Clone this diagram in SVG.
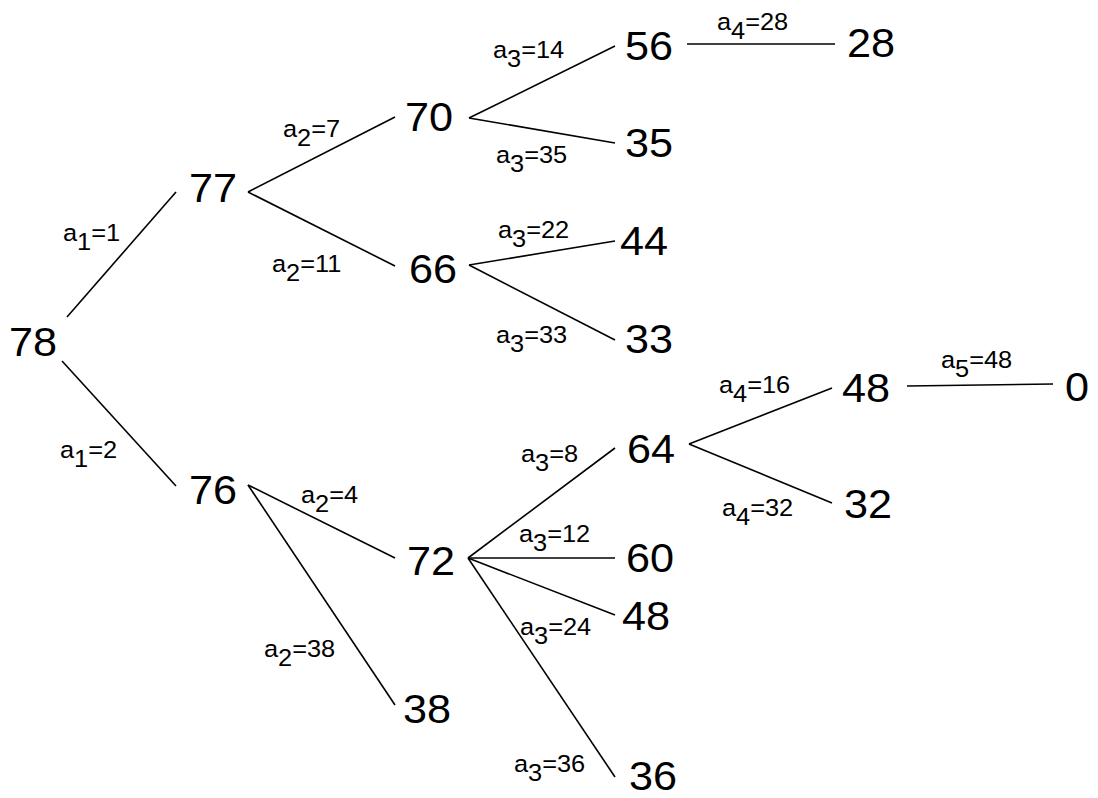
<svg xmlns="http://www.w3.org/2000/svg" width="1098" height="798" viewBox="0 0 1098 798">
<style>
.n{font-family:"Liberation Sans",Arial,sans-serif;font-size:40px;fill:#000}
.l{font-family:"Liberation Sans",Arial,sans-serif;font-size:23.5px;fill:#000}
.e line{stroke:#000;stroke-width:1.6;fill:none}
</style>
<rect width="1098" height="798" fill="#fff"/>
<g id="connectors" class="e">
<line x1="67" y1="317" x2="176" y2="192"/>
<line x1="62" y1="361" x2="176" y2="486"/>
<line x1="248" y1="192" x2="395" y2="117"/>
<line x1="248" y1="192" x2="395" y2="266"/>
<line x1="469" y1="118" x2="615" y2="46"/>
<line x1="469" y1="118" x2="615" y2="143"/>
<line x1="469" y1="265" x2="615" y2="241"/>
<line x1="469" y1="265" x2="615" y2="340"/>
<line x1="687" y1="44" x2="835" y2="44"/>
<line x1="248" y1="485" x2="395" y2="558"/>
<line x1="248" y1="485" x2="395" y2="705"/>
<line x1="468" y1="558" x2="615" y2="448"/>
<line x1="468" y1="558" x2="615" y2="558"/>
<line x1="468" y1="558" x2="615" y2="615"/>
<line x1="468" y1="558" x2="615" y2="777"/>
<line x1="689" y1="444" x2="832" y2="388"/>
<line x1="689" y1="444" x2="832" y2="503"/>
<line x1="907" y1="386" x2="1053" y2="384"/>
</g>
<g id="edge-labels">
<text class="l" transform="matrix(1.08 0 0 1 63 241)">a<tspan dy="9">1</tspan><tspan dy="-9">=1</tspan></text>
<text class="l" transform="matrix(1.08 0 0 1 60 458)">a<tspan dy="9">1</tspan><tspan dy="-9">=2</tspan></text>
<text class="l" transform="matrix(1.08 0 0 1 283 137)">a<tspan dy="9">2</tspan><tspan dy="-9">=7</tspan></text>
<text class="l" transform="matrix(1.08 0 0 1 272 272)">a<tspan dy="9">2</tspan><tspan dy="-9">=11</tspan></text>
<text class="l" transform="matrix(1.08 0 0 1 301 503)">a<tspan dy="9">2</tspan><tspan dy="-9">=4</tspan></text>
<text class="l" transform="matrix(1.08 0 0 1 264 657)">a<tspan dy="9">2</tspan><tspan dy="-9">=38</tspan></text>
<text class="l" transform="matrix(1.08 0 0 1 493 58)">a<tspan dy="9">3</tspan><tspan dy="-9">=14</tspan></text>
<text class="l" transform="matrix(1.08 0 0 1 496 163)">a<tspan dy="9">3</tspan><tspan dy="-9">=35</tspan></text>
<text class="l" transform="matrix(1.08 0 0 1 498 238)">a<tspan dy="9">3</tspan><tspan dy="-9">=22</tspan></text>
<text class="l" transform="matrix(1.08 0 0 1 496 343)">a<tspan dy="9">3</tspan><tspan dy="-9">=33</tspan></text>
<text class="l" transform="matrix(1.08 0 0 1 521 462)">a<tspan dy="9">3</tspan><tspan dy="-9">=8</tspan></text>
<text class="l" transform="matrix(1.08 0 0 1 519 542)">a<tspan dy="9">3</tspan><tspan dy="-9">=12</tspan></text>
<text class="l" transform="matrix(1.08 0 0 1 520 635)">a<tspan dy="9">3</tspan><tspan dy="-9">=24</tspan></text>
<text class="l" transform="matrix(1.08 0 0 1 514 772)">a<tspan dy="9">3</tspan><tspan dy="-9">=36</tspan></text>
<text class="l" transform="matrix(1.08 0 0 1 717 30)">a<tspan dy="9">4</tspan><tspan dy="-9">=28</tspan></text>
<text class="l" transform="matrix(1.08 0 0 1 719 393)">a<tspan dy="9">4</tspan><tspan dy="-9">=16</tspan></text>
<text class="l" transform="matrix(1.08 0 0 1 722 516)">a<tspan dy="9">4</tspan><tspan dy="-9">=32</tspan></text>
<text class="l" transform="matrix(1.08 0 0 1 941 368)">a<tspan dy="9">5</tspan><tspan dy="-9">=48</tspan></text>
</g>
<g id="n78"><text class="n" transform="matrix(1.08 0 0 1 9 356)">78</text></g>
<g id="n77"><text class="n" transform="matrix(1.08 0 0 1 189 202)">77</text></g>
<g id="n76"><text class="n" transform="matrix(1.08 0 0 1 189 504)">76</text></g>
<g id="n70"><text class="n" transform="matrix(1.08 0 0 1 405 131)">70</text></g>
<g id="n66"><text class="n" transform="matrix(1.08 0 0 1 409 283)">66</text></g>
<g id="n56"><text class="n" transform="matrix(1.08 0 0 1 625 60)">56</text></g>
<g id="n35"><text class="n" transform="matrix(1.08 0 0 1 625 157)">35</text></g>
<g id="n44"><text class="n" transform="matrix(1.08 0 0 1 620 255)">44</text></g>
<g id="n33"><text class="n" transform="matrix(1.08 0 0 1 625 353)">33</text></g>
<g id="n28"><text class="n" transform="matrix(1.08 0 0 1 847 57)">28</text></g>
<g id="n72"><text class="n" transform="matrix(1.08 0 0 1 407 575)">72</text></g>
<g id="n38"><text class="n" transform="matrix(1.08 0 0 1 403 723)">38</text></g>
<g id="n64"><text class="n" transform="matrix(1.08 0 0 1 627 463)">64</text></g>
<g id="n60"><text class="n" transform="matrix(1.08 0 0 1 626 572)">60</text></g>
<g id="n48b"><text class="n" transform="matrix(1.08 0 0 1 622 630)">48</text></g>
<g id="n36"><text class="n" transform="matrix(1.08 0 0 1 629 790)">36</text></g>
<g id="n48a"><text class="n" transform="matrix(1.08 0 0 1 842 402)">48</text></g>
<g id="n32"><text class="n" transform="matrix(1.08 0 0 1 844 518)">32</text></g>
<g id="n0"><text class="n" transform="matrix(1.08 0 0 1 1065 401)">0</text></g>
</svg>
